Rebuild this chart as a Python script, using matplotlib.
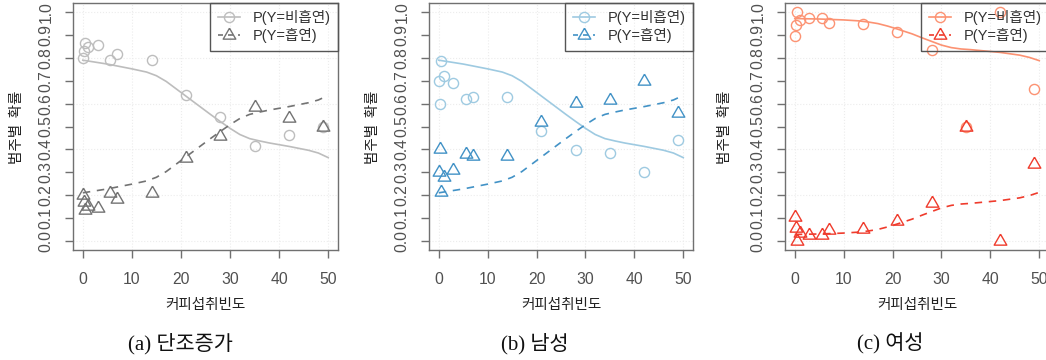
import numpy as np
import matplotlib
matplotlib.use("Agg")
import matplotlib.pyplot as plt
from matplotlib.lines import Line2D

plt.rcParams['font.family'] = ['Liberation Sans', 'Noto Sans CJK KR', 'DejaVu Sans']

# ---- observed proportions by coffee frequency ----
freq = [0, 0.2, 0.5, 1, 3, 5.5, 7, 14, 21, 28, 35, 42, 49]

a_nonsmoke = [0.800, 0.828, 0.865, 0.847, 0.857, 0.792, 0.815, 0.792, 0.639, 0.541, 0.416, 0.462, 0.500]
a_smoke    = [0.200, 0.172, 0.135, 0.153, 0.143, 0.208, 0.185, 0.208, 0.361, 0.459, 0.584, 0.538, 0.500]

b_nonsmoke = [0.697, 0.600, 0.785, 0.719, 0.690, 0.622, 0.627, 0.630, 0.480, 0.399, 0.386, 0.300, 0.443]
b_smoke    = [0.303, 0.400, 0.215, 0.281, 0.310, 0.378, 0.373, 0.370, 0.520, 0.601, 0.614, 0.700, 0.557]

c_nonsmoke = [0.894, 0.945, 1.000, 0.964, 0.975, 0.973, 0.952, 0.946, 0.913, 0.833, 0.500, 1.000, 0.665]
c_smoke    = [0.106, 0.055, 0.000, 0.036, 0.025, 0.027, 0.048, 0.054, 0.087, 0.167, 0.500, 0.000, 0.335]

# ---- fitted probability curves ----
fit_x = [0, 5, 10, 13, 15, 17, 19, 21, 24, 26, 28, 30, 32, 34, 36, 38, 42, 46, 48, 50]

fit_nonsmoke_ab = [0.790, 0.773, 0.752, 0.738, 0.722, 0.697, 0.665, 0.633, 0.585, 0.553,
                   0.522, 0.492, 0.465, 0.447, 0.437, 0.428, 0.413, 0.396, 0.384, 0.364]
fit_smoke_ab    = [0.210, 0.227, 0.248, 0.262, 0.278, 0.303, 0.335, 0.367, 0.415, 0.447,
                   0.478, 0.508, 0.535, 0.553, 0.563, 0.572, 0.587, 0.604, 0.616, 0.636]

fit_nonsmoke_c = [0.972, 0.970, 0.966, 0.962, 0.957, 0.950, 0.939, 0.926, 0.905, 0.888,
                  0.872, 0.856, 0.845, 0.839, 0.836, 0.832, 0.824, 0.812, 0.802, 0.788]
fit_smoke_c    = [0.028, 0.030, 0.034, 0.038, 0.043, 0.050, 0.061, 0.074, 0.095, 0.112,
                  0.128, 0.144, 0.155, 0.161, 0.164, 0.168, 0.176, 0.188, 0.198, 0.212]

y_ticks = [0.0, 0.1, 0.2, 0.3, 0.4, 0.5, 0.6, 0.7, 0.8, 0.9, 1.0]
x_ticks = [0, 10, 20, 30, 40, 50]
grid_y = [0.0, 0.2, 0.4, 0.6, 0.8, 1.0]

legend_labels = ['P(Y=비흡연)', 'P(Y=흡연)']
x_label = '커피섭취빈도'
y_label = '범주별  확률'
captions = ['(a) 단조증가', '(b) 남성', '(c) 여성']

panels = [
    dict(obs=(a_nonsmoke, a_smoke), fit=(fit_nonsmoke_ab, fit_smoke_ab),
         colors=('#bdbdbd', '#737373')),
    dict(obs=(b_nonsmoke, b_smoke), fit=(fit_nonsmoke_ab, fit_smoke_ab),
         colors=('#9ecae1', '#4292c6')),
    dict(obs=(c_nonsmoke, c_smoke), fit=(fit_nonsmoke_c, fit_smoke_c),
         colors=('#fc9272', '#ef3b2c')),
]

W, H = 1046, 360
fig = plt.figure(figsize=(W / 100, H / 100), dpi=100)

# axes boxes in pixels: (left, right)
boxes = [(73, 338), (429, 693), (785, 1049)]
top_px, bot_px = 3, 250
ylabel_x = [17, 373, 725]
caption_x = [180, 535, 890]

tri = [(0, 1), (-0.866, -0.5), (0.866, -0.5), (0, 1)]
box_color = '#707070'
tick_color = '#505050'

for i, (p, (l, r)) in enumerate(zip(panels, boxes)):
    ax = fig.add_axes([l / W, (H - bot_px) / H, (r - l) / W, (bot_px - top_px) / H])
    ax.set_xlim(-2, 52)
    ax.set_ylim(-0.04, 1.04)
    c_non, c_smk = p['colors']

    for gy in grid_y:
        ax.axhline(gy, color='#ececec', lw=0.8, ls=':', zorder=0)
    for gx in x_ticks:
        ax.axvline(gx, color='#ececec', lw=0.8, ls=':', zorder=0)

    ax.plot(freq, p['obs'][0], ls='none', marker='o', ms=7.3, mfc='none',
            mec=c_non, mew=1.0, zorder=3)
    ax.plot(freq, p['obs'][1], ls='none', marker=tri, ms=10.5, mfc='none',
            mec=c_smk, mew=1.0, zorder=3)
    ax.plot(fit_x, p['fit'][0], color=c_non, lw=1.2, zorder=2)
    ax.plot(fit_x, p['fit'][1], color=c_smk, lw=1.2, ls=(0, (4.5, 4)), zorder=2)

    ax.set_xticks(x_ticks)
    ax.set_yticks(y_ticks)
    ax.set_yticklabels([f'{v:.1f}' for v in y_ticks], rotation=90, va='center')
    ax.tick_params(axis='both', direction='out', length=6, width=1.0,
                   color=box_color, labelcolor=tick_color, labelsize=11.3)
    ax.tick_params(axis='x', pad=10)
    ax.tick_params(axis='y', pad=8)
    for s in ax.spines.values():
        s.set_color(box_color)
        s.set_linewidth(1.0)

    handles = [
        Line2D([], [], color=c_non, lw=1.2, marker='o', ms=7.3, mfc='none', mec=c_non, mew=1.0),
        Line2D([], [], color=c_smk, lw=1.2, ls=(0, (3, 3)), marker=tri, ms=10.5,
               mfc='none', mec=c_smk, mew=1.0),
    ]
    leg = ax.legend(handles, legend_labels, loc='upper right', borderaxespad=0,
                    frameon=True, fancybox=False, facecolor='none', edgecolor='#555555',
                    handlelength=1.5, handletextpad=0.9, borderpad=0.5,
                    labelspacing=0.2,
                    prop={'family': ['Liberation Sans', 'Noto Sans CJK KR'], 'size': 10.5})
    leg.get_frame().set_linewidth(1.0)
    leg.get_frame().set_alpha(None)
    for t in leg.get_texts():
        t.set_color('#333333')

    fig.text((l + r) / 2 / W, 1 - 305 / H, x_label, ha='center', va='center',
             fontsize=10.5, color='#222222', family=['Noto Sans CJK KR'])
    fig.text(ylabel_x[i] / W, 1 - 127 / H, y_label, ha='center', va='center',
             rotation=90, fontsize=10.5, color='#222222', family=['Noto Sans CJK KR'])
    fig.text(caption_x[i] / W, 1 - 344 / H, captions[i], ha='center', va='center',
             fontsize=15, color='#111111',
             family=['Liberation Serif', 'Noto Sans CJK KR'])

fig.savefig('out.png', dpi=100)
